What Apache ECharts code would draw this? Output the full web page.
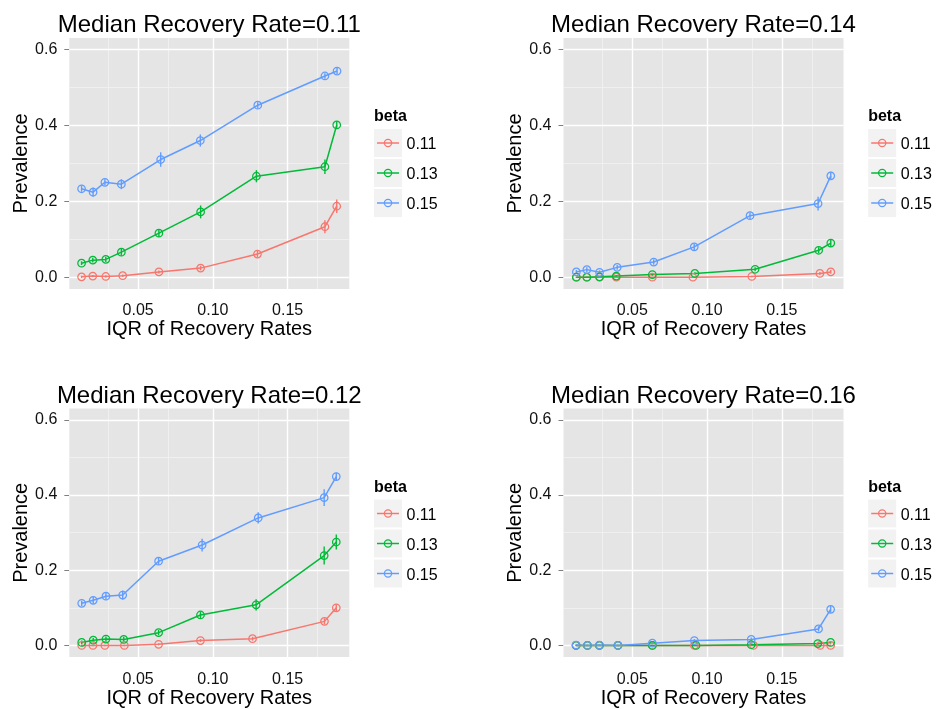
<!DOCTYPE html>
<html><head><meta charset="utf-8">
<script src="https://cdn.jsdelivr.net/npm/echarts@6/dist/echarts.min.js"></script>
<style>html,body{margin:0;padding:0;background:#fff}#c{width:936px;height:709px}</style>
</head><body><div id="c"></div>
<script>
// ---------- labels / ticks ----------
const betaLevels = ['0.11', '0.13', '0.15'];
const medianRates = ['0.11', '0.14', '0.12', '0.16'];
const xTicks = [0.05, 0.10, 0.15];
const xMinorTicks = [0.025, 0.075, 0.125, 0.175];
const yTicks = [0, 0.2, 0.4, 0.6];
const yMinorTicks = [0.1, 0.3, 0.5];

// ---------- Median Recovery Rate = 0.11 ----------
const iqr_m011_b011 = [0.0122, 0.0197, 0.0284, 0.0397, 0.0639, 0.0918, 0.1298, 0.1749, 0.1828];
const prev_m011_b011 = [0.001, 0.003, 0.002, 0.004, 0.014, 0.024, 0.061, 0.133, 0.187];
const err_m011_b011 = [0.003, 0.003, 0.003, 0.003, 0.004, 0.006, 0.008, 0.017, 0.018];
const iqr_m011_b013 = [0.0122, 0.0197, 0.0284, 0.0388, 0.0639, 0.0918, 0.1291, 0.1749, 0.1828];
const prev_m011_b013 = [0.037, 0.045, 0.047, 0.066, 0.116, 0.172, 0.266, 0.291, 0.401];
const err_m011_b013 = [0.005, 0.006, 0.007, 0.009, 0.010, 0.017, 0.016, 0.019, 0.010];
const iqr_m011_b015 = [0.0122, 0.0199, 0.0278, 0.0388, 0.0651, 0.0916, 0.1300, 0.1749, 0.1830];
const prev_m011_b015 = [0.233, 0.224, 0.250, 0.245, 0.310, 0.360, 0.453, 0.530, 0.543];
const err_m011_b015 = [0.008, 0.012, 0.008, 0.013, 0.019, 0.016, 0.008, 0.007, 0.008];

// ---------- Median Recovery Rate = 0.14 ----------
const iqr_m014_b011 = [0.0126, 0.0196, 0.0281, 0.0393, 0.0634, 0.0905, 0.1299, 0.1754, 0.1827];
const prev_m014_b011 = [0.000, 0.000, 0.000, 0.000, 0.000, 0.000, 0.002, 0.010, 0.014];
const err_m014_b011 = [0.001, 0.001, 0.001, 0.001, 0.001, 0.001, 0.002, 0.004, 0.005];
const iqr_m014_b013 = [0.0126, 0.0196, 0.0281, 0.0393, 0.0634, 0.0918, 0.1321, 0.1746, 0.1827];
const prev_m014_b013 = [0.000, 0.000, 0.001, 0.003, 0.007, 0.010, 0.021, 0.071, 0.090];
const err_m014_b013 = [0.001, 0.001, 0.002, 0.002, 0.003, 0.003, 0.005, 0.008, 0.010];
const iqr_m014_b015 = [0.0126, 0.0196, 0.0281, 0.0399, 0.0643, 0.0914, 0.1287, 0.1742, 0.1827];
const prev_m014_b015 = [0.014, 0.020, 0.013, 0.026, 0.040, 0.080, 0.162, 0.194, 0.267];
const err_m014_b015 = [0.005, 0.006, 0.005, 0.006, 0.007, 0.008, 0.009, 0.018, 0.011];

// ---------- Median Recovery Rate = 0.12 ----------
const iqr_m012_b011 = [0.0123, 0.0198, 0.0278, 0.0408, 0.0637, 0.0917, 0.1265, 0.1746, 0.1825];
const prev_m012_b011 = [0.000, 0.000, 0.000, 0.000, 0.003, 0.013, 0.018, 0.064, 0.100];
const err_m012_b011 = [0.002, 0.002, 0.002, 0.002, 0.003, 0.004, 0.005, 0.008, 0.009];
const iqr_m012_b013 = [0.0123, 0.0200, 0.0285, 0.0404, 0.0637, 0.0917, 0.1289, 0.1744, 0.1825];
const prev_m012_b013 = [0.008, 0.014, 0.017, 0.016, 0.034, 0.081, 0.108, 0.239, 0.275];
const err_m012_b013 = [0.005, 0.006, 0.007, 0.007, 0.007, 0.009, 0.015, 0.024, 0.020];
const iqr_m012_b015 = [0.0123, 0.0200, 0.0285, 0.0397, 0.0637, 0.0928, 0.1303, 0.1744, 0.1825];
const prev_m012_b015 = [0.112, 0.120, 0.131, 0.134, 0.224, 0.267, 0.339, 0.393, 0.449];
const err_m012_b015 = [0.007, 0.009, 0.009, 0.012, 0.009, 0.017, 0.015, 0.022, 0.010];

// ---------- Median Recovery Rate = 0.16 ----------
const iqr_m016_b011 = [0.0124, 0.0200, 0.0280, 0.0404, 0.0634, 0.0915, 0.1310, 0.1756, 0.1826];
const prev_m016_b011 = [0.000, 0.000, 0.000, 0.000, 0.000, 0.000, 0.000, 0.000, 0.000];
const err_m016_b011 = [0.001, 0.001, 0.001, 0.001, 0.001, 0.001, 0.001, 0.002, 0.002];
const iqr_m016_b013 = [0.0124, 0.0200, 0.0280, 0.0404, 0.0634, 0.0926, 0.1295, 0.1740, 0.1826];
const prev_m016_b013 = [0.000, 0.000, 0.000, 0.000, 0.000, 0.000, 0.002, 0.005, 0.008];
const err_m016_b013 = [0.001, 0.001, 0.001, 0.001, 0.001, 0.001, 0.002, 0.003, 0.003];
const iqr_m016_b015 = [0.0124, 0.0200, 0.0280, 0.0404, 0.0634, 0.0915, 0.1295, 0.1745, 0.1826];
const prev_m016_b015 = [0.001, 0.000, 0.001, 0.000, 0.006, 0.013, 0.016, 0.044, 0.096];
const err_m016_b015 = [0.002, 0.002, 0.002, 0.002, 0.003, 0.004, 0.005, 0.007, 0.009];

// ---------- assembly ----------
const panelData = [
  [[iqr_m011_b011, prev_m011_b011, err_m011_b011], [iqr_m011_b013, prev_m011_b013, err_m011_b013], [iqr_m011_b015, prev_m011_b015, err_m011_b015]],
  [[iqr_m014_b011, prev_m014_b011, err_m014_b011], [iqr_m014_b013, prev_m014_b013, err_m014_b013], [iqr_m014_b015, prev_m014_b015, err_m014_b015]],
  [[iqr_m012_b011, prev_m012_b011, err_m012_b011], [iqr_m012_b013, prev_m012_b013, err_m012_b013], [iqr_m012_b015, prev_m012_b015, err_m012_b015]],
  [[iqr_m016_b011, prev_m016_b011, err_m016_b011], [iqr_m016_b013, prev_m016_b013, err_m016_b013], [iqr_m016_b015, prev_m016_b015, err_m016_b015]]
];

const COLORS = ['#F8766D', '#00BA38', '#619CFF'];
const FONT = 'Liberation Sans, Arial, Helvetica, sans-serif';
const TXT = '#111111';
const GL = [69.3, 563.5], GT = [38, 408.5], GW = 280, GH = 251;
const layout = [[0, 0], [1, 0], [0, 1], [1, 1]];

const grids = [], xAxes = [], yAxes = [], series = [], graphics = [];

layout.forEach(([c, r], gi) => {
  const left = GL[c], top = GT[r];
  grids.push({left: left, top: top, width: GW, height: GH, show: true, z: 0,
    backgroundColor: '#E5E5E5', borderWidth: 0, containLabel: false});
  xAxes.push({type: 'value', gridIndex: gi, min: 0.004, max: 0.1912,
    splitLine: {show: false}, axisLine: {show: false},
    axisTick: {show: true, customValues: xTicks, length: 5, lineStyle: {color: '#7F7F7F', width: 1}},
    axisLabel: {customValues: xTicks, formatter: v => v.toFixed(2), fontSize: 16, color: TXT, margin: 14, fontFamily: FONT},
    name: 'IQR of Recovery Rates', nameLocation: 'middle', nameGap: 30,
    nameTextStyle: {fontSize: 20, color: '#000', fontFamily: FONT}});
  yAxes.push({type: 'value', gridIndex: gi, min: -0.031, max: 0.63,
    splitLine: {show: false}, axisLine: {show: false},
    axisTick: {show: true, customValues: yTicks, length: 5, lineStyle: {color: '#7F7F7F', width: 1}},
    axisLabel: {customValues: yTicks, formatter: v => v.toFixed(1), fontSize: 16, color: TXT, margin: 12, fontFamily: FONT},
    name: 'Prevalence', nameLocation: 'middle', nameGap: 38, nameRotate: 90,
    nameTextStyle: {fontSize: 20, color: '#000', fontFamily: FONT}});

  // grid lines (panel background rules), drawn beneath the data
  const ml = [];
  yMinorTicks.forEach(v => ml.push({yAxis: v, lineStyle: {color: '#F2F2F2', width: 0.8, type: 'solid'}}));
  xMinorTicks.forEach(v => ml.push({xAxis: v, lineStyle: {color: '#F2F2F2', width: 0.8, type: 'solid'}}));
  yTicks.forEach(v => ml.push({yAxis: v, lineStyle: {color: '#FFFFFF', width: 1.4, type: 'solid'}}));
  xTicks.forEach(v => ml.push({xAxis: v, lineStyle: {color: '#FFFFFF', width: 1.4, type: 'solid'}}));
  series.push({type: 'line', xAxisIndex: gi, yAxisIndex: gi, data: [], z: 1, silent: true,
    markLine: {z: 1, silent: true, symbol: ['none', 'none'], label: {show: false}, animation: false, data: ml}});

  panelData[gi].forEach(([xs, ys, es], k) => {
    const col = COLORS[k];
    series.push({type: 'line', name: betaLevels[k], xAxisIndex: gi, yAxisIndex: gi, z: 3,
      data: xs.map((x, i) => [x, ys[i]]),
      symbol: 'circle', symbolSize: 7.5, showSymbol: true,
      itemStyle: {color: 'rgba(0,0,0,0)', borderColor: col, borderWidth: 1.25},
      lineStyle: {color: col, width: 1.5}, emphasis: {disabled: true}});
    series.push({type: 'custom', xAxisIndex: gi, yAxisIndex: gi, z: 3, silent: true,
      data: xs.map((x, i) => [x, ys[i], es[i]]),
      encode: {x: 0, y: 1},
      renderItem: (params, api) => {
        const x = api.value(0), y = api.value(1), e = api.value(2);
        const p1 = api.coord([x, y - e]), p2 = api.coord([x, y + e]);
        return {type: 'line', shape: {x1: p1[0], y1: p1[1], x2: p2[0], y2: p2[1]},
          style: {stroke: col, lineWidth: 1.4}};
      }});
  });

  // panel title
  graphics.push({type: 'text', x: left + GW / 2, y: top - 12.5,
    style: {text: 'Median Recovery Rate=' + medianRates[gi], font: '24px ' + FONT, fill: '#000', align: 'center', verticalAlign: 'middle'}});

  // legend
  const lx = left + 304.7, ly = top;
  graphics.push({type: 'text', x: lx, y: ly + 79,
    style: {text: 'beta', font: 'bold 16px ' + FONT, fill: '#000', align: 'left', verticalAlign: 'middle'}});
  betaLevels.forEach((b, k) => {
    const by = ly + 91 + k * 30;
    graphics.push({type: 'rect', shape: {x: lx, y: by, width: 28, height: 28}, style: {fill: '#F2F2F2'}});
    graphics.push({type: 'line', shape: {x1: lx + 3, y1: by + 14, x2: lx + 25, y2: by + 14}, style: {stroke: COLORS[k], lineWidth: 1.5}});
    graphics.push({type: 'circle', shape: {cx: lx + 14, cy: by + 14, r: 3.6}, style: {fill: 'none', stroke: COLORS[k], lineWidth: 1.25}});
    graphics.push({type: 'text', x: lx + 32.5, y: by + 16,
      style: {text: b, font: '16px ' + FONT, fill: '#000', align: 'left', verticalAlign: 'middle'}});
  });
});

const chart = echarts.init(document.getElementById('c'), null, {renderer: 'canvas'});
chart.setOption({
  animation: false,
  backgroundColor: '#ffffff',
  grid: grids, xAxis: xAxes, yAxis: yAxes, series: series,
  graphic: graphics
});
</script></body></html>
